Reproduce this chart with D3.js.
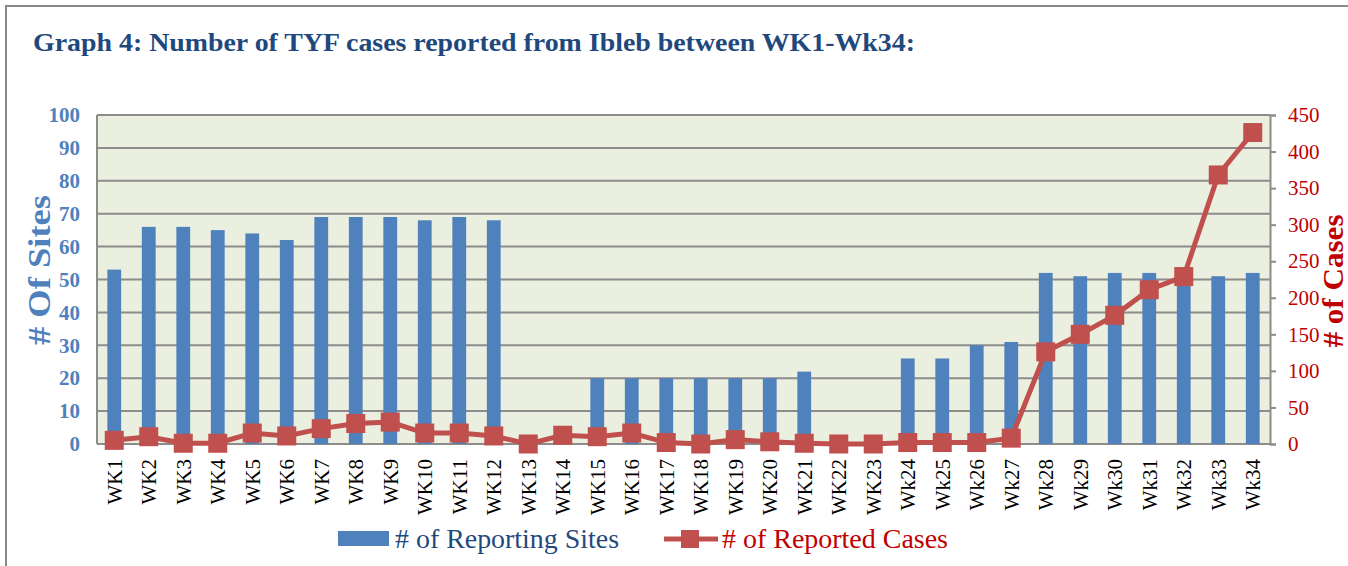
<!DOCTYPE html>
<head>
  <meta charset="utf-8">
  <title>Graph 4</title>
  <script type="text/javascript" src="https://d3js.org/d3.v7.min.js"></script>
  <style>
    body { margin: 0; background: #fff; }
  </style>
</head>
<body>
<script>
  // week labels + both series
  var weeks = ["WK1","WK2","WK3","WK4","WK5","WK6","WK7","WK8","WK9","WK10","WK11","WK12",
    "WK13","WK14","WK15","WK16","WK17","WK18","WK19","WK20","WK21","WK22","WK23",
    "Wk24","Wk25","Wk26","Wk27","Wk28","Wk29","Wk30","Wk31","Wk32","Wk33","Wk34"];
  var sites = [53,66,66,65,64,62,69,69,69,68,69,68,0,0,20,20,20,20,20,20,22,0,0,
    26,26,30,31,52,51,52,52,51,51,52];
  var cases = [5,10,1,1,15,11,21,28,30,15,15,11,0,12,10,15,2,0,6,3,1,0,0,
    2,2,2,8,126,150,176,211,229,368,426];
  var leftTicks = [0,10,20,30,40,50,60,70,80,90,100];
  var rightTicks = [0,50,100,150,200,250,300,350,400,450];

  var W = 1348, H = 566;
  // note: "top" is reserved on window, so use plot* names
  var plotL = 97, plotR = 1270, plotT = 115, plotB = 444;

  var svg = d3.select("body").append("svg")
    .attr("width", W).attr("height", H);

  // page frame
  svg.append("rect")
    .attr("x", 6).attr("y", 6).attr("width", W + 10).attr("height", H + 10)
    .attr("fill", "none").attr("stroke", "#8a8a8a").attr("stroke-width", 2);

  svg.append("text")
    .attr("x", 33).attr("y", 51)
    .attr("font-family", "Liberation Serif").attr("font-weight", "bold")
    .attr("font-size", 26).attr("fill", "#1f497d")
    .attr("textLength", 882).attr("lengthAdjust", "spacingAndGlyphs")
    .text("Graph 4: Number of TYF cases reported from Ibleb between WK1-Wk34:");

  var x = d3.scaleBand().domain(weeks).range([plotL, plotR]);
  var ySites = d3.scaleLinear().domain([0, 100]).range([plotB, plotT]);
  var yCases = d3.scaleLinear().domain([0, 450]).range([plotB, plotT]);

  svg.append("rect")
    .attr("x", plotL).attr("y", plotT)
    .attr("width", plotR - plotL).attr("height", plotB - plotT)
    .attr("fill", "#ebefdf");

  // gridlines
  svg.append("g").selectAll("line").data(leftTicks).enter().append("line")
    .attr("x1", plotL).attr("x2", plotR)
    .attr("y1", function(d) { return ySites(d); })
    .attr("y2", function(d) { return ySites(d); })
    .attr("stroke", "#8c8c8c").attr("stroke-width", 2);

  svg.append("line")
    .attr("x1", plotL).attr("x2", plotL).attr("y1", plotT).attr("y2", plotB)
    .attr("stroke", "#8c8c8c").attr("stroke-width", 2);

  // bars
  svg.append("g").selectAll("rect").data(weeks).enter().append("rect")
    .attr("x", function(d) { return x(d) + x.bandwidth() * 0.3; })
    .attr("width", x.bandwidth() * 0.4)
    .attr("y", function(d, i) { return ySites(sites[i]); })
    .attr("height", function(d, i) { return plotB - ySites(sites[i]); })
    .attr("fill", "#4f81bd");

  // left axis
  var gl = svg.append("g").attr("transform", "translate(" + plotL + ",0)")
    .call(d3.axisLeft(ySites).tickValues(leftTicks).tickSize(0).tickPadding(17));
  gl.select(".domain").remove();
  gl.selectAll("text")
    .attr("font-family", "Liberation Serif").attr("font-weight", "bold")
    .attr("font-size", 21).attr("fill", "#4f81bd");

  // right axis
  var gr = svg.append("g").attr("transform", "translate(" + plotR + ",0)")
    .call(d3.axisRight(yCases).tickValues(rightTicks).tickSize(6).tickPadding(12));
  gr.select(".domain").attr("stroke", "#8c8c8c").attr("stroke-width", 2);
  gr.selectAll("line").attr("stroke", "#8c8c8c").attr("stroke-width", 2);
  gr.selectAll("text")
    .attr("font-family", "Liberation Serif")
    .attr("font-size", 21).attr("fill", "#c00000");

  // x labels
  svg.append("g").selectAll("text").data(weeks).enter().append("text")
    .attr("transform", function(d) {
      return "translate(" + (x(d) + x.bandwidth() / 2) + ",459) rotate(-90)";
    })
    .attr("text-anchor", "end").attr("dy", "0.35em")
    .attr("font-family", "Liberation Serif").attr("font-size", 21)
    .attr("fill", "#000").text(function(d) { return d; });

  // case line + markers
  var line = d3.line()
    .x(function(d, i) { return x(weeks[i]) + x.bandwidth() / 2; })
    .y(function(d) { return yCases(d); });
  svg.append("path").datum(cases)
    .attr("d", line).attr("fill", "none")
    .attr("stroke", "#c0504d").attr("stroke-width", 5);
  svg.append("g").selectAll("rect").data(cases).enter().append("rect")
    .attr("x", function(d, i) { return x(weeks[i]) + x.bandwidth() / 2 - 9.5; })
    .attr("y", function(d) { return yCases(d) - 9.5; })
    .attr("width", 19).attr("height", 19)
    .attr("fill", "#c0504d");

  // axis titles
  svg.append("text")
    .attr("transform", "translate(50,270) rotate(-90)")
    .attr("text-anchor", "middle")
    .attr("font-family", "Liberation Serif").attr("font-weight", "bold")
    .attr("font-size", 32).attr("fill", "#4f81bd")
    .attr("textLength", 150).attr("lengthAdjust", "spacingAndGlyphs")
    .text("# Of Sites");
  svg.append("text")
    .attr("transform", "translate(1343,281) rotate(-90)")
    .attr("text-anchor", "middle")
    .attr("font-family", "Liberation Serif").attr("font-weight", "bold")
    .attr("font-size", 30).attr("fill", "#c00000")
    .attr("textLength", 133).attr("lengthAdjust", "spacingAndGlyphs")
    .text("# of Cases");

  // legend
  svg.append("rect").attr("x", 338).attr("y", 531).attr("width", 51).attr("height", 15)
    .attr("fill", "#4f81bd");
  svg.append("text").attr("x", 395).attr("y", 548)
    .attr("font-family", "Liberation Serif").attr("font-size", 27).attr("fill", "#1f497d")
    .attr("textLength", 224).attr("lengthAdjust", "spacingAndGlyphs")
    .text("# of Reporting Sites");
  svg.append("line").attr("x1", 664).attr("x2", 718).attr("y1", 539).attr("y2", 539)
    .attr("stroke", "#c0504d").attr("stroke-width", 5);
  svg.append("rect").attr("x", 681).attr("y", 530).attr("width", 18).attr("height", 18)
    .attr("fill", "#c0504d");
  svg.append("text").attr("x", 722).attr("y", 548)
    .attr("font-family", "Liberation Serif").attr("font-size", 27).attr("fill", "#c00000")
    .attr("textLength", 226).attr("lengthAdjust", "spacingAndGlyphs")
    .text("# of Reported Cases");
</script>
</body>
